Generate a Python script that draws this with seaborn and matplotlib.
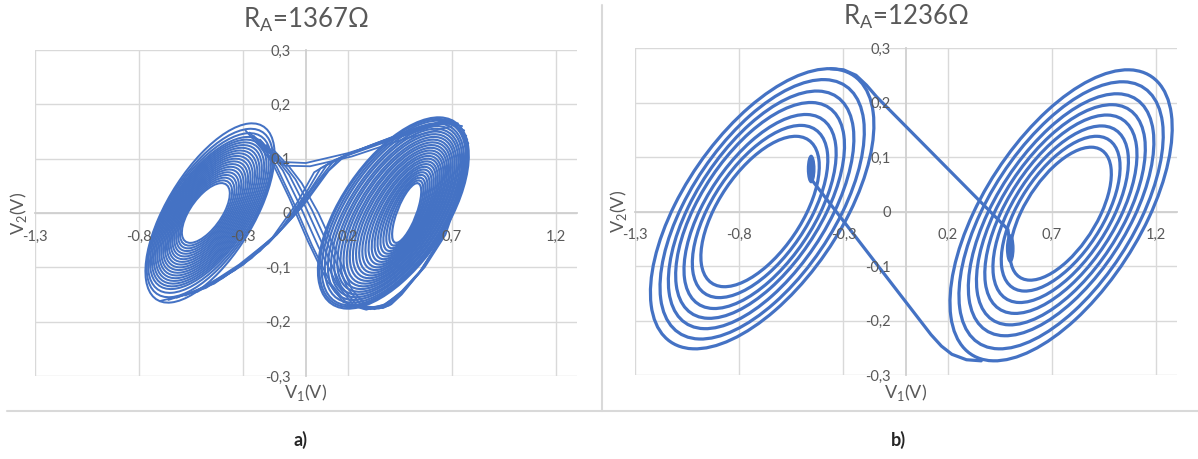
import numpy as np
import matplotlib
matplotlib.use("Agg")
import matplotlib.pyplot as plt
import seaborn as sns
import pandas as pd
from matplotlib.patches import Ellipse
from matplotlib.lines import Line2D
from matplotlib.ticker import FuncFormatter

# ---------------- data ----------------
X_TICKS = [-1.3, -0.8, -0.3, 0.2, 0.7, 1.2]
Y_TICKS = [0.3, 0.2, 0.1, 0.0, -0.1, -0.2, -0.3]
TITLES = [r"R$_\mathregular{A}$=1367Ω", r"R$_\mathregular{A}$=1236Ω"]
CAPTIONS = ["a)", "b)"]

# Panel a (R_A = 1367 ohm): loops of the two scrolls (centre, half-width, half-height, tilt)
A_LEFT_CX = [-0.480, -0.479, -0.478, -0.477, -0.476, -0.475, -0.474, -0.473, -0.472, -0.471,
             -0.470, -0.469, -0.468, -0.467, -0.466, -0.465, -0.464, -0.463, -0.462, -0.461, -0.460]
A_LEFT_HW = [0.115, 0.125, 0.135, 0.145, 0.155, 0.165, 0.175, 0.185, 0.195, 0.205,
             0.215, 0.225, 0.235, 0.245, 0.255, 0.265, 0.275, 0.285, 0.295, 0.303, 0.310]
A_LEFT_HH = [0.055, 0.060, 0.065, 0.070, 0.075, 0.080, 0.085, 0.090, 0.095, 0.100,
             0.105, 0.110, 0.115, 0.120, 0.125, 0.130, 0.135, 0.140, 0.147, 0.155, 0.165]
A_LEFT_TILT = [0.65] * 21
A_RIGHT_CX = [0.484, 0.482, 0.480, 0.478, 0.476, 0.474, 0.472, 0.470, 0.467, 0.464, 0.461, 0.458, 0.455, 0.452,
              0.449, 0.446, 0.443, 0.440, 0.437, 0.434, 0.431, 0.428, 0.425, 0.422, 0.420, 0.420]
A_RIGHT_HW = [0.070, 0.082, 0.094, 0.106, 0.118, 0.130, 0.142, 0.154, 0.166, 0.178, 0.190, 0.202, 0.214, 0.226,
              0.238, 0.250, 0.262, 0.274, 0.286, 0.298, 0.310, 0.322, 0.334, 0.346, 0.355, 0.362]
A_RIGHT_HH = [0.055, 0.060, 0.065, 0.070, 0.075, 0.080, 0.085, 0.090, 0.095, 0.100, 0.105, 0.110, 0.115, 0.120,
              0.125, 0.130, 0.135, 0.140, 0.145, 0.150, 0.155, 0.160, 0.165, 0.170, 0.173, 0.176]
A_RIGHT_TILT = [0.72, 0.72, 0.71, 0.71, 0.70, 0.70, 0.69, 0.69, 0.68, 0.68, 0.67, 0.67, 0.66, 0.66,
                0.65, 0.65, 0.64, 0.64, 0.63, 0.63, 0.62, 0.62, 0.61, 0.61, 0.60, 0.60]

# Panel a: transitions left -> right scroll (through the origin and along the upper bridge)
A_BRIDGES_LR = [
    [(-0.70, -0.162), (-0.52, -0.145), (-0.34, -0.105), (-0.16, -0.045), (-0.04, 0.020),
     (0.04, 0.075), (0.14, 0.098), (0.40, 0.133), (0.62, 0.163), (0.73, 0.165)],
    [(-0.66, -0.160), (-0.48, -0.138), (-0.30, -0.095), (-0.13, -0.035), (-0.01, 0.030),
     (0.07, 0.082), (0.17, 0.103), (0.42, 0.138), (0.64, 0.167), (0.75, 0.160)],
    [(-0.62, -0.156), (-0.44, -0.130), (-0.26, -0.083), (-0.10, -0.022), (0.02, 0.042),
     (0.10, 0.088), (0.20, 0.108), (0.45, 0.143), (0.66, 0.170), (0.76, 0.152)],
    [(-0.58, -0.152), (-0.40, -0.120), (-0.22, -0.070), (-0.07, -0.010), (0.05, 0.055),
     (0.13, 0.094), (0.24, 0.114), (0.48, 0.148), (0.68, 0.171), (0.77, 0.142)],
    [(-0.54, -0.146), (-0.36, -0.108), (-0.18, -0.056), (-0.04, 0.002), (0.08, 0.066),
     (0.16, 0.100), (0.28, 0.120), (0.51, 0.153), (0.69, 0.171), (0.775, 0.135)],
    [(-0.50, -0.140), (-0.32, -0.095), (-0.14, -0.040), (-0.01, 0.015), (0.11, 0.078),
     (0.19, 0.106), (0.32, 0.126), (0.54, 0.158), (0.70, 0.171), (0.78, 0.128)],
    [(-0.20, 0.118), (-0.12, 0.094), (0.00, 0.092), (0.20, 0.110), (0.45, 0.140), (0.68, 0.168)],
    [(-0.18, 0.105), (-0.10, 0.087), (0.02, 0.086), (0.22, 0.104), (0.47, 0.136), (0.70, 0.160)],
]
# Panel a: transitions right -> left scroll (round the lower-right edge of the right scroll)
A_BRIDGES_RL = [
    [(0.775, 0.125), (0.75, 0.050), (0.67, -0.040), (0.57, -0.100), (0.47, -0.142), (0.38, -0.168),
     (0.29, -0.178), (0.20, -0.168), (0.12, -0.130), (0.03, -0.060), (-0.06, 0.020), (-0.14, 0.085),
     (-0.20, 0.118), (-0.27, 0.148)],
    [(0.77, 0.115), (0.74, 0.045), (0.66, -0.042), (0.56, -0.102), (0.46, -0.144), (0.38, -0.170),
     (0.31, -0.177), (0.23, -0.170), (0.15, -0.132), (0.06, -0.062), (-0.03, 0.015), (-0.11, 0.078),
     (-0.17, 0.110), (-0.25, 0.142)],
    [(0.765, 0.105), (0.735, 0.040), (0.655, -0.045), (0.555, -0.105), (0.46, -0.146), (0.39, -0.170),
     (0.33, -0.177), (0.25, -0.172), (0.17, -0.135), (0.09, -0.066), (0.00, 0.010), (-0.08, 0.070),
     (-0.14, 0.100), (-0.22, 0.135)],
    [(0.76, 0.095), (0.73, 0.035), (0.65, -0.048), (0.55, -0.108), (0.46, -0.148), (0.40, -0.170),
     (0.35, -0.176), (0.27, -0.172), (0.20, -0.138), (0.12, -0.070), (0.03, 0.005), (-0.05, 0.062),
     (-0.11, 0.092), (-0.19, 0.125)],
    [(0.755, 0.085), (0.725, 0.030), (0.645, -0.050), (0.545, -0.110), (0.46, -0.150), (0.41, -0.168),
     (0.37, -0.175), (0.29, -0.172), (0.22, -0.140), (0.15, -0.075), (0.06, 0.000), (-0.02, 0.055),
     (-0.08, 0.085), (-0.16, 0.118)],
    [(0.75, 0.075), (0.72, 0.025), (0.64, -0.052), (0.54, -0.112), (0.45, -0.150), (0.37, -0.170),
     (0.28, -0.176), (0.18, -0.164), (0.10, -0.124), (0.01, -0.052), (-0.08, 0.028), (-0.16, 0.092),
     (-0.22, 0.122), (-0.29, 0.152)],
]

# Panel b (R_A = 1236 ohm)
B_LEFT_CX = [-0.700, -0.700, -0.700, -0.700, -0.695, -0.690, -0.690]
B_LEFT_CY = [0.000, 0.000, 0.000, 0.002, 0.003, 0.004, 0.005]
B_LEFT_HW = [0.284, 0.325, 0.365, 0.405, 0.445, 0.490, 0.536]
B_LEFT_HH = [0.138, 0.158, 0.178, 0.198, 0.218, 0.238, 0.257]
B_RIGHT_CX = [0.742, 0.742, 0.742, 0.743, 0.743, 0.744, 0.744, 0.744]
B_RIGHT_CY = [-0.004, -0.004, -0.005, -0.005, -0.006, -0.006, -0.007, -0.007]
B_RIGHT_HW = [0.243, 0.285, 0.325, 0.365, 0.405, 0.445, 0.490, 0.533]
B_RIGHT_HH = [0.122, 0.142, 0.162, 0.182, 0.202, 0.222, 0.245, 0.267]
B_TILT = [0.60, 0.60]
B_BRIDGE_LR = [(-0.362, 0.262), (-0.30, 0.260), (-0.24, 0.250), (-0.19, 0.232), (-0.14, 0.210),
               (0.489, -0.033), (0.500, -0.065)]
B_BRIDGE_RL = [(0.361, -0.274), (0.29, -0.272), (0.22, -0.262), (0.17, -0.247), (0.12, -0.226),
               (-0.454, 0.059), (-0.460, 0.090)]
B_SPOTS = [(-0.455, 0.078), (0.500, -0.068)]

BLUE = "#4472C4"
GRID = "#D9D9D9"
TXT = "#595959"

sns.set_theme(style="white")
plt.rcParams["font.family"] = ["Lato", "DejaVu Sans"]
plt.rcParams["mathtext.fontset"] = "custom"
plt.rcParams["mathtext.rm"] = "Lato"

fig = plt.figure(figsize=(11.98, 4.59), dpi=100)
W, H = 1198, 459
ax_a = fig.add_axes([35 / W, 1 - 376 / H, 541.7 / W, 326 / H])
ax_b = fig.add_axes([635 / W, 1 - 375 / H, 542 / W, 327 / H])


def loop_patch(cx, cy, hw, hh, tilt, lw, z=2):
    s = np.sqrt(1 - tilt ** 2)
    M = np.array([[hw, 0.0], [hh * tilt, hh * s]])
    U, S, _ = np.linalg.svd(M)
    ang = np.degrees(np.arctan2(U[1, 0], U[0, 0]))
    return Ellipse((cx, cy), 2 * S[0], 2 * S[1], angle=ang, fill=False,
                   edgecolor=BLUE, linewidth=lw, zorder=z)


def fmt(v, p):
    if abs(v) < 1e-9:
        return "0"
    return f"{v:.1f}".replace(".", ",")


def style_axes(ax, title, caption_x, caption):
    ax.set_xlim(-1.3, 1.3)
    ax.set_ylim(-0.3, 0.3)
    ax.grid(False)
    for xv in X_TICKS:
        ax.axvline(xv, color=GRID, lw=1.0, zorder=0.5)
    for yv in Y_TICKS:
        ax.axhline(yv, color=GRID, lw=1.0, zorder=0.5)
    for sp in ["top", "right"]:
        ax.spines[sp].set_visible(False)
    ax.spines["bottom"].set_position(("data", 0))
    ax.spines["left"].set_position(("data", 0))
    for sp in ["bottom", "left"]:
        ax.spines[sp].set_color("#D0D0D0")
        ax.spines[sp].set_linewidth(1.3)
        ax.spines[sp].set_zorder(0.6)
    ax.set_xticks(X_TICKS)
    ax.set_yticks(Y_TICKS)
    ax.xaxis.set_major_formatter(FuncFormatter(fmt))
    ax.yaxis.set_major_formatter(FuncFormatter(fmt))
    ax.tick_params(axis="x", length=0, pad=12, labelsize=10.5, labelcolor=TXT)
    ax.tick_params(axis="y", length=0, pad=11, labelsize=10.5, labelcolor=TXT)
    ax.xaxis.set_zorder(5)
    ax.yaxis.set_zorder(5)
    ax.set_facecolor("white")
    ax.text(0.5, (376 - 27) / 326, title, transform=ax.transAxes, ha="center",
            va="baseline", fontsize=18.5, color=TXT)
    ax.set_xlabel(r"V$_\mathregular{1}$(V)", fontsize=13, color=TXT)
    ax.xaxis.set_label_coords(0.5, -0.052)
    ax.xaxis.label.set_va("center")
    ax.set_ylabel(r"V$_\mathregular{2}$(V)", fontsize=13, color=TXT)
    ax.yaxis.set_label_coords(-0.031, 0.5)
    ax.yaxis.label.set_va("center")
    fig.text(caption_x / W, 1 - 440 / H, caption, ha="center", va="center",
             fontsize=13, fontweight="bold", color="#262626")


def bridges_df(bridges):
    rows = []
    for i, seg in enumerate(bridges):
        for j, (x, y) in enumerate(seg):
            rows.append({"seg": i, "order": j, "V1": x, "V2": y})
    return pd.DataFrame(rows)


# ---- panel a ----
for cx, hw, hh, tl in zip(A_LEFT_CX, A_LEFT_HW, A_LEFT_HH, A_LEFT_TILT):
    ax_a.add_patch(loop_patch(cx, 0.0, hw, hh, tl, 1.45))
for cx, hw, hh, tl in zip(A_RIGHT_CX, A_RIGHT_HW, A_RIGHT_HH, A_RIGHT_TILT):
    ax_a.add_patch(loop_patch(cx, 0.0, hw, hh, tl, 1.55))
sns.lineplot(data=bridges_df(A_BRIDGES_LR + A_BRIDGES_RL), x="V1", y="V2", units="seg",
             estimator=None, sort=False, color=BLUE, lw=1.3, ax=ax_a, legend=False, zorder=2)
style_axes(ax_a, TITLES[0], 300, CAPTIONS[0])

# ---- panel b ----
for cx, cy, hw, hh in zip(B_LEFT_CX, B_LEFT_CY, B_LEFT_HW, B_LEFT_HH):
    ax_b.add_patch(loop_patch(cx, cy, hw, hh, B_TILT[0], 2.3))
for cx, cy, hw, hh in zip(B_RIGHT_CX, B_RIGHT_CY, B_RIGHT_HW, B_RIGHT_HH):
    ax_b.add_patch(loop_patch(cx, cy, hw, hh, B_TILT[1], 2.3))
sns.lineplot(data=bridges_df([B_BRIDGE_LR, B_BRIDGE_RL]), x="V1", y="V2", units="seg",
             estimator=None, sort=False, color=BLUE, lw=2.3, ax=ax_b, legend=False, zorder=2)
for (sx, sy) in B_SPOTS:
    ax_b.add_patch(Ellipse((sx, sy), 0.035, 0.05, color=BLUE, zorder=2))
style_axes(ax_b, TITLES[1], 898, CAPTIONS[1])

# chart-area borders
fig.add_artist(Line2D([602 / W, 602 / W], [1 - 5 / H, 1 - 411 / H], color="#D9D9D9", lw=1.5,
                      transform=fig.transFigure))
fig.add_artist(Line2D([7 / W, 1.0], [1 - 411 / H, 1 - 411 / H], color="#D9D9D9", lw=1.5,
                      transform=fig.transFigure))

fig.savefig("out.png", dpi=100, facecolor="white")
